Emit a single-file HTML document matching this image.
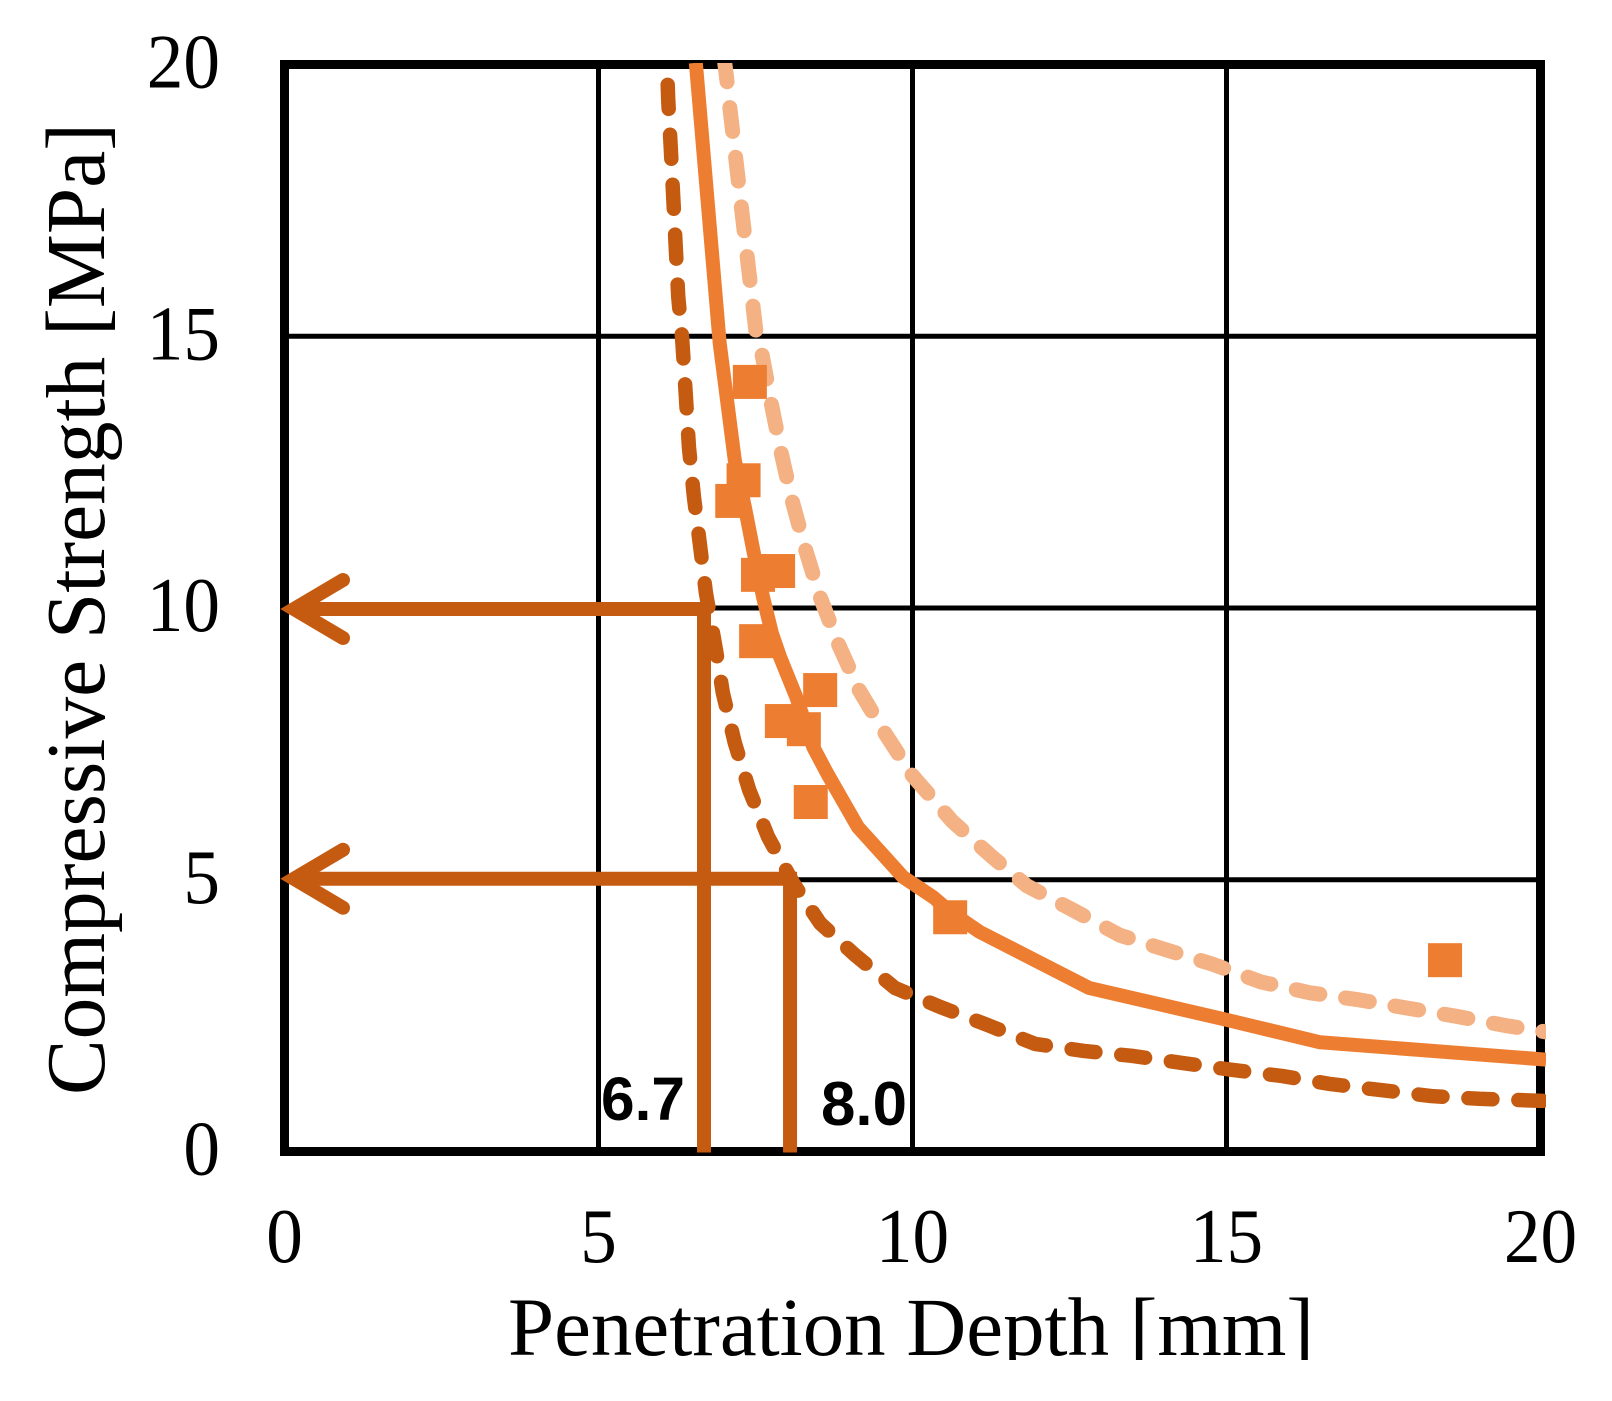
<!DOCTYPE html>
<html lang="en">
<head>
<meta charset="utf-8">
<title>Compressive Strength vs Penetration Depth</title>
<style>
html,body{margin:0;padding:0;background:#fff;}
svg{display:block;}
text{font-family:"Liberation Serif",serif;fill:#000;}
</style>
</head>
<body>
<svg id="chart" xmlns="http://www.w3.org/2000/svg" width="1612" height="1401" viewBox="0 0 1612 1401">
  <defs>
    <clipPath id="plot-clip"><rect x="270" y="63" width="1276" height="1095"></rect></clipPath>
    <clipPath id="page-clip"><rect x="0" y="0" width="1612" height="1360"></rect></clipPath>
  </defs>
  <rect width="1612" height="1401" fill="#fff"></rect>
  <g id="grid"></g>
  <rect id="frame" fill="none" stroke="#000" stroke-width="9"></rect>
  <g id="xticks"></g>
  <g id="yticks"></g>
  <g clip-path="url(#page-clip)">
    <text x="508" y="1355" font-size="83" textLength="806" lengthAdjust="spacingAndGlyphs">Penetration Depth [mm]</text>
  </g>
  <text transform="translate(104,1095) rotate(-90)" font-size="84" textLength="972" lengthAdjust="spacingAndGlyphs">Compressive Strength [MPa]</text>
  <g clip-path="url(#plot-clip)">
    <g id="series"></g>
    <g id="markers"></g>
    <g id="guides"></g>
  </g>
  <text x="601" y="1120" font-size="61" font-weight="700" style='font-family:"Liberation Sans",sans-serif' textLength="84" lengthAdjust="spacingAndGlyphs">6.7</text>
  <text x="821" y="1125" font-size="62" font-weight="700" style='font-family:"Liberation Sans",sans-serif' textLength="86" lengthAdjust="spacingAndGlyphs">8.0</text>
</svg>
<script>
const xTickLabels = [0, 5, 10, 15, 20];
const yTickLabels = [0, 5, 10, 15, 20];

const solidX = [6.55,6.93,7.17,7.33,7.47,7.62,7.76,7.89,8.15,8.42,8.64,9.13,9.85,10.33,10.60,11.07,12.81,15.01,16.49,20.09];
const solidY = [20.03,14.87,12.72,11.86,11.03,10.20,9.54,9.10,8.36,7.44,6.96,5.97,5.05,4.68,4.41,4.04,3.01,2.42,2.01,1.69];

const upperX = [7.01,7.05,7.09,7.17,7.29,7.51,7.60,7.75,7.91,8.08,8.29,8.53,8.81,9.15,9.56,9.99,10.63,11.25,11.82,12.56,13.30,14.04,14.77,15.55,16.33,17.11,17.87,18.65,19.48,20.09];
const upperY = [20.03,19.66,19.22,18.43,17.23,15.06,14.69,13.77,12.85,11.99,11.10,10.20,9.36,8.49,7.70,6.93,6.08,5.44,4.89,4.44,3.98,3.71,3.45,3.12,2.92,2.79,2.64,2.49,2.31,2.20];

const lowerX = [6.09,6.11,6.15,6.19,6.23,6.27,6.33,6.39,6.44,6.52,6.62,6.71,6.87,6.98,7.17,7.40,7.70,8.10,8.53,9.08,9.72,10.44,11.19,11.95,12.73,13.49,14.29,15.10,15.88,16.66,17.46,18.26,19.02,20.09];
const lowerY = [20.03,19.35,18.48,17.56,16.64,15.72,14.99,13.92,12.96,12.04,11.12,10.28,9.23,8.44,7.52,6.65,5.79,4.94,4.20,3.62,3.01,2.66,2.33,1.98,1.85,1.76,1.63,1.50,1.39,1.24,1.13,1.02,0.97,0.93];

const pointX = [7.41,7.31,7.13,7.54,7.86,7.51,8.53,7.92,8.27,8.38,10.60,18.48];
const pointY = [14.16,12.35,11.97,10.61,10.68,9.39,8.49,7.92,7.77,6.43,4.31,3.52];

const guideDepth = [6.68,8.05];
const guideStrength = [10,5];

const NS = 'http://www.w3.org/2000/svg';
const xScale = v => 284.5 + v * 62.8;
const yScale = v => 1151.5 - v * 54.35;

function make(tag, parent, attrs) {
  const el = document.createElementNS(NS, tag);
  for (const k in attrs) el.setAttribute(k, attrs[k]);
  parent.appendChild(el);
  return el;
}

const frame = document.getElementById('frame');
frame.setAttribute('x', xScale(0));
frame.setAttribute('y', yScale(20));
frame.setAttribute('width', xScale(20) - xScale(0));
frame.setAttribute('height', yScale(0) - yScale(20));

const grid = document.getElementById('grid');
xTickLabels.slice(1, -1).forEach(v => {
  const l = make('line', grid, {x1: xScale(v), x2: xScale(v), y1: yScale(0), y2: yScale(20), stroke: '#000', 'stroke-width': 5});
  
  
});
yTickLabels.slice(1, -1).forEach(v => {
  const l = make('line', grid, {x1: xScale(0), x2: xScale(20), y1: yScale(v), y2: yScale(v), stroke: '#000', 'stroke-width': 5});
  
  
});

const digitWidth = 36.6;
const xt = document.getElementById('xticks');
xTickLabels.forEach(v => {
  const t = make('text', xt, {x: xScale(v), y: 1262, 'font-size': 77, 'text-anchor': 'middle', textLength: String(v).length * digitWidth, lengthAdjust: 'spacingAndGlyphs'});
  t.textContent = v;
  
  
});
const yt = document.getElementById('yticks');
yTickLabels.forEach(v => {
  const t = make('text', yt, {x: 220, y: yScale(v) + 23, 'font-size': 77, 'text-anchor': 'end', textLength: String(v).length * digitWidth, lengthAdjust: 'spacingAndGlyphs'});
  t.textContent = v;
  
  
});

function pts(xs, ys) {
  return xs.map((x, i) => xScale(x).toFixed(2) + ',' + yScale(ys[i]).toFixed(2)).join(' ');
}

const series = document.getElementById('series');
const upper = make('polyline', series, {points: pts(upperX, upperY), fill: 'none', stroke: '#F4B183', 'stroke-width': 15, 'stroke-linecap': 'round', 'stroke-linejoin': 'round', 'stroke-dasharray': '24 26', 'stroke-dashoffset': '5'});


const lower = make('polyline', series, {points: pts(lowerX, lowerY), fill: 'none', stroke: '#C55A11', 'stroke-width': 14.5, 'stroke-linecap': 'round', 'stroke-linejoin': 'round', 'stroke-dasharray': '24 26', 'stroke-dashoffset': '28'});


const solid = make('polyline', series, {points: pts(solidX, solidY), fill: 'none', stroke: '#ED7D31', 'stroke-width': 14, 'stroke-linejoin': 'round'});



const markers = document.getElementById('markers');
pointX.forEach((x, i) => {
  const r = make('rect', markers, {x: xScale(x) - 17, y: yScale(pointY[i]) - 17, width: 34, height: 34, fill: '#ED7D31'});
  
  
});

const guides = document.getElementById('guides');
guideDepth.forEach((d, i) => {
  const s = guideStrength[i];
  const px = xScale(d), py = yScale(s) + (i === 0 ? 1 : -1);
  const v = make('line', guides, {x1: px, x2: px, y1: py, y2: yScale(0) + 1, stroke: '#C55A11', 'stroke-width': 14});
  
  
  const h = make('line', guides, {x1: px + 7, x2: 294, y1: py, y2: py, stroke: '#C55A11', 'stroke-width': 14});
  
  
  const a = make('polyline', guides, {points: '343,' + (py - 29) + ' 294,' + py + ' 343,' + (py + 29), fill: 'none', stroke: '#C55A11', 'stroke-width': 14, 'stroke-linecap': 'round', 'stroke-linejoin': 'miter', 'stroke-miterlimit': 8});
  
  
});
</script>
</body>
</html>
